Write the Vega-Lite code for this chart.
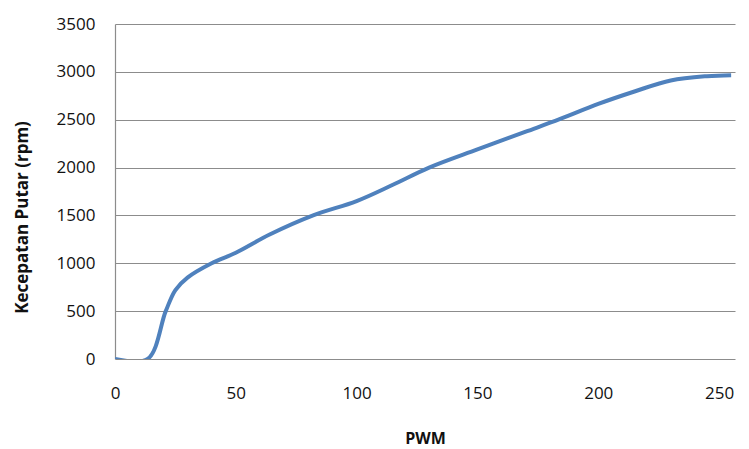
{
  "$schema": "https://vega.github.io/schema/vega-lite/v6.json",
  "width": 620,
  "height": 335,
  "autosize": {"type": "none"},
  "padding": {"left": 115, "top": 24, "right": 14, "bottom": 90},
  "background": "white",
  "config": {"view": {"stroke": null}},
  "data": {"values": [
    {"pwm": 0, "rpm": 0},
    {"pwm": 13.5, "rpm": 0},
    {"pwm": 21, "rpm": 500},
    {"pwm": 25, "rpm": 720},
    {"pwm": 30, "rpm": 850},
    {"pwm": 40, "rpm": 1000},
    {"pwm": 50, "rpm": 1110},
    {"pwm": 64, "rpm": 1300},
    {"pwm": 82, "rpm": 1500},
    {"pwm": 100, "rpm": 1650},
    {"pwm": 115, "rpm": 1820},
    {"pwm": 130, "rpm": 2000},
    {"pwm": 150, "rpm": 2190},
    {"pwm": 170, "rpm": 2375},
    {"pwm": 184, "rpm": 2505},
    {"pwm": 200, "rpm": 2665},
    {"pwm": 215, "rpm": 2795},
    {"pwm": 230, "rpm": 2910},
    {"pwm": 245, "rpm": 2955},
    {"pwm": 255, "rpm": 2965}
  ]},
  "mark": {"type": "line", "interpolate": "catmull-rom", "color": "#4f81bd", "strokeWidth": 4, "clip": true},
  "encoding": {
    "x": {
      "field": "pwm", "type": "quantitative",
      "scale": {"domain": [0, 256.6], "nice": false},
      "axis": {
        "title": "PWM", "values": [0, 50, 100, 150, 200, 250], "format": "d",
        "grid": false, "ticks": false, "domain": false,
        "labelFont": "Open Sans", "labelFontSize": 17, "labelColor": "#111111",
        "labelPadding": 26, "labelFlush": false,
        "titleFont": "Open Sans", "titleFontSize": 16, "titleFontWeight": "bold", "titleColor": "#111111",
        "titleY": 84, "titleBaseline": "alphabetic"
      }
    },
    "y": {
      "field": "rpm", "type": "quantitative",
      "scale": {"domain": [0, 3500], "nice": false},
      "axis": {
        "title": "Kecepatan Putar (rpm)", "values": [0, 500, 1000, 1500, 2000, 2500, 3000, 3500], "format": "d",
        "grid": true, "gridColor": "#8c8c8c", "gridWidth": 1.2,
        "ticks": false, "domain": true, "domainColor": "#8c8c8c", "domainWidth": 1.2,
        "labelFont": "Open Sans", "labelFontSize": 17, "labelColor": "#111111",
        "labelPadding": 20,
        "titleFont": "Open Sans", "titleFontSize": 17, "titleFontWeight": "bold", "titleColor": "#111111",
        "titleX": -84, "titleY": 193
      }
    }
  }
}
